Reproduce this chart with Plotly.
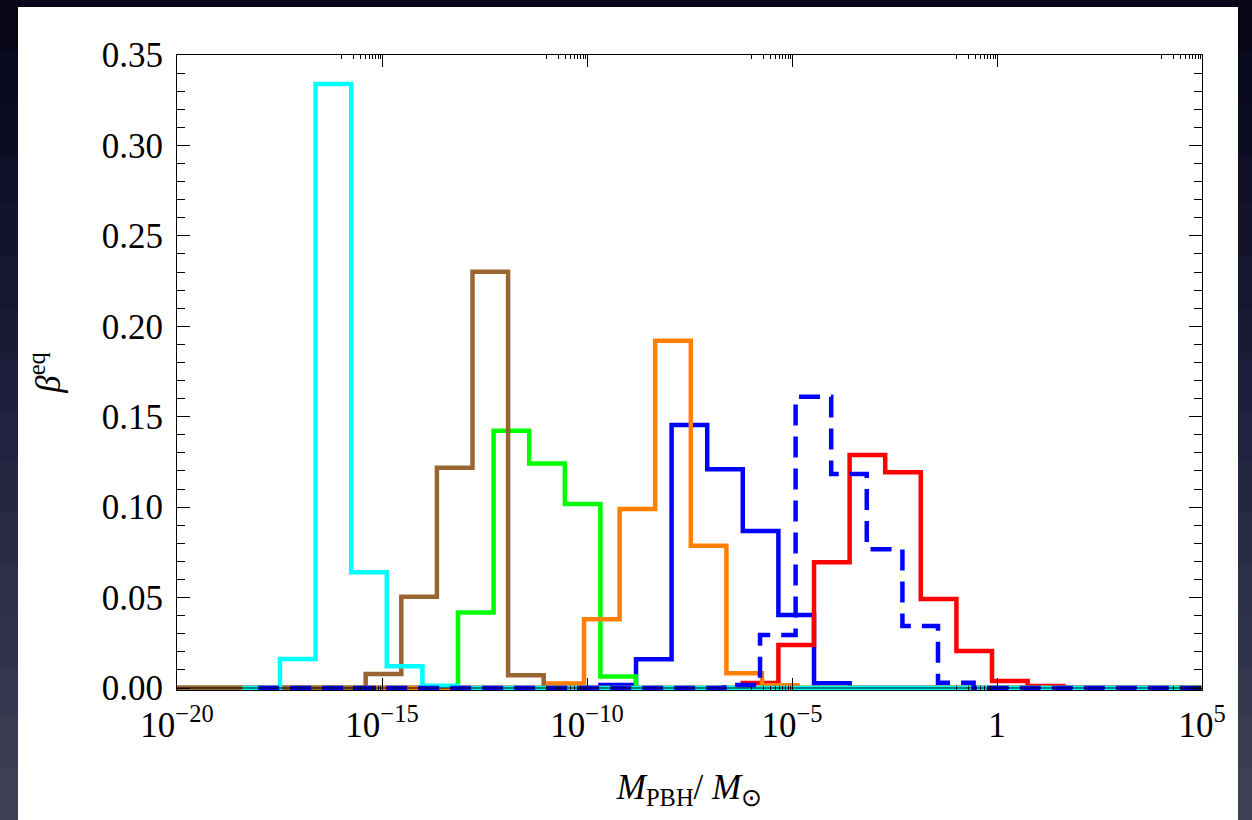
import plotly.graph_objects as go

# ---------------- data (log10 of M_PBH / M_sun for bin edges) ----------------
x_range_log = [-20, 5]
x_end_log = 5.0

cyan_start = -18.41
cyan_edges = [-17.488, -16.620, -15.751, -14.883, -14.015, -13.146]
cyan_heights = [0.016, 0.334, 0.064, 0.012, 0.0012]

brown_start = -20.1
brown_edges = [-15.398, -14.529, -13.661, -12.793, -11.924, -11.056]
brown_heights = [0.0077, 0.0505, 0.1218, 0.2302, 0.0070]

green_start = -20.1
green_edges = [-13.146, -12.278, -11.410, -10.541, -9.673, -8.805]
green_heights = [0.0418, 0.1423, 0.1242, 0.1017, 0.0063]

orange_start = -20.1
orange_edges = [-10.941, -10.073, -9.205, -8.337, -7.468, -6.600, -5.732, -4.863]
orange_heights = [0.0025, 0.038, 0.099, 0.192, 0.0787, 0.0081, 0.0015]

blue_start = -20.1
blue_edges = [-9.673, -8.805, -7.937, -7.068, -6.200, -5.332, -4.463, -3.595]
blue_heights = [0.0017, 0.0159, 0.1454, 0.121, 0.0868, 0.0404, 0.0026]

blue_dashed_start = -18.02
blue_dashed_edges = [-6.649, -5.780, -4.912, -4.044, -3.176, -2.307, -1.439, -0.571]
blue_dashed_heights = [0.0017, 0.0293, 0.161, 0.1183, 0.0767, 0.0343, 0.0029]

red_start = -20.1
red_edges = [-6.200, -5.332, -4.463, -3.595, -2.727, -1.859, -0.990, -0.122, 0.746, 1.615]
red_heights = [0.0028, 0.0238, 0.0695, 0.1288, 0.1193, 0.0492, 0.0205, 0.0039, 0.0011]

x_tick_vals = [1e-20, 1e-15, 1e-10, 1e-5, 1, 1e5]
x_tick_text = ["10<sup>\u221220</sup>", "10<sup>\u221215</sup>", "10<sup>\u221210</sup>",
               "10<sup>\u22125</sup>", "1", "10<sup>5</sup>"]
x_major_exponents = [-15, -10, -5, 0, 5]
x_minor_mantissas = [1, 2, 3, 4, 5, 6, 7, 8, 9]

y_max = 0.35


def step_xy(start, edges, heights, end):
    xs = [start] + list(edges) + [end]
    ys = [0.0] + list(heights) + [0.0, 0.0]
    return [10 ** v for v in xs], ys


series = [  # drawn bottom -> top
    (blue_start, blue_edges, blue_heights, "#0000FF", "solid"),
    (red_start, red_edges, red_heights, "#FF0000", "solid"),
    (green_start, green_edges, green_heights, "#00FF00", "solid"),
    (orange_start, orange_edges, orange_heights, "#FF8000", "solid"),
    (brown_start, brown_edges, brown_heights, "#996633", "solid"),
    (cyan_start, cyan_edges, cyan_heights, "#00FFFF", "solid"),
    (blue_dashed_start, blue_dashed_edges, blue_dashed_heights, "#0000FF", "21px,11px"),
]

fig = go.Figure()
for start, edges, heights, color, dash in series:
    xs, ys = step_xy(start, edges, heights, x_end_log)
    fig.add_trace(go.Scatter(x=xs, y=ys, mode="lines", line_shape="hv",
                             line=dict(color=color, width=4.5, dash=dash),
                             hoverinfo="skip"))

# ---------------- layout ----------------
W, H = 1252, 820
ml, mr, mt, mb = 177, 50, 55, 130
plot_w = W - ml - mr
plot_h = H - mt - mb
zero_px_above_bottom = 2.0
y_lo = -zero_px_above_bottom / (plot_h - zero_px_above_bottom) * y_max


def px_x(px):
    return (px - ml) / plot_w


def px_y(py):
    return (H - mb - py) / plot_h


shapes = []
# dark gradient background as horizontal bands
top_c = (5, 5, 22)
mid_c = (30, 32, 62)
bot_c = (64, 66, 86)
nb = 16
for i in range(nb):
    t = (i + 0.5) / nb
    if t < 0.5:
        u = t / 0.5
        c = [round(top_c[k] + (mid_c[k] - top_c[k]) * u) for k in range(3)]
    else:
        u = (t - 0.5) / 0.5
        c = [round(mid_c[k] + (bot_c[k] - mid_c[k]) * u) for k in range(3)]
    y_top = H * i / nb
    y_bot = H * (i + 1) / nb
    shapes.append(dict(type="rect", xref="paper", yref="paper",
                       x0=px_x(0), x1=px_x(W), y0=px_y(y_bot + 1), y1=px_y(y_top),
                       fillcolor="rgb(%d,%d,%d)" % tuple(c), line=dict(width=0), layer="below"))
# white panel
shapes.append(dict(type="rect", xref="paper", yref="paper",
                   x0=px_x(18), x1=px_x(1238), y0=px_y(H + 2), y1=px_y(7),
                   fillcolor="white", line=dict(width=0), layer="below"))
# axis line through y = 0
shapes.append(dict(type="line", xref="paper", yref="y", x0=0, x1=1, y0=0, y1=0,
                   line=dict(color="black", width=1), layer="above"))

minor_vals = [m * 10.0 ** (e - 1) for e in x_major_exponents for m in x_minor_mantissas]

font_family = "Liberation Serif, Times New Roman, serif"

fig.update_layout(
    width=W, height=H,
    margin=dict(l=ml, r=mr, t=mt, b=mb, pad=0),
    paper_bgcolor="rgb(30,32,58)",
    plot_bgcolor="white",
    showlegend=False,
    font=dict(family=font_family, size=35, color="black"),
    shapes=shapes,
)

fig.update_xaxes(
    type="log", range=x_range_log,
    tickmode="array", tickvals=x_tick_vals, ticktext=x_tick_text,
    ticks="inside", ticklen=12, tickwidth=1, tickcolor="black",
    showline=True, linecolor="black", linewidth=1, mirror="ticks",
    showgrid=False, zeroline=False,
    minor=dict(tickvals=minor_vals, ticks="inside", ticklen=4, tickwidth=1,
               tickcolor="black", showgrid=False),
    tickfont=dict(family=font_family, size=35, color="black"),
    ticklabelstandoff=4,
    title=dict(text="<i>M</i><sub>PBH</sub>/ <i>M</i><sub>\u2299</sub>",
               font=dict(family=font_family, size=35, color="black"), standoff=30),
)

fig.update_yaxes(
    range=[y_lo, y_max],
    tickmode="linear", tick0=0, dtick=0.05, tickformat=".2f",
    ticks="inside", ticklen=13, tickwidth=1, tickcolor="black",
    showline=True, linecolor="black", linewidth=1, mirror="ticks",
    showgrid=False, zeroline=False,
    minor=dict(tick0=0, dtick=0.01, ticks="inside", ticklen=8, tickwidth=1,
               tickcolor="black", showgrid=False),
    tickfont=dict(family=font_family, size=35, color="black"),
    ticklabelstandoff=6,
    title=dict(text="<i>\u03b2</i><sup>eq</sup>",
               font=dict(family=font_family, size=35, color="black"), standoff=30),
)

fig.write_html("out.html")
